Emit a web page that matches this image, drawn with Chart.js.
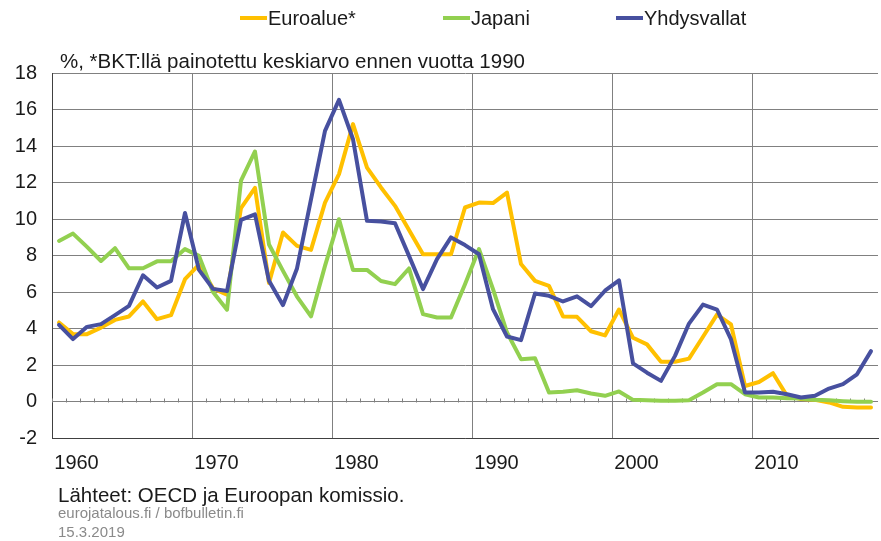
<!DOCTYPE html>
<html>
<head>
<meta charset="utf-8">
<script src="https://cdn.jsdelivr.net/npm/chart.js@4.4.1/dist/chart.umd.min.js"></script>
<style>
	body { margin: 0; background: #fff; font-family: "Liberation Sans", Arial, sans-serif; }
	#wrap { position: relative; width: 881px; height: 541px; overflow: hidden; }
	#chart { position: absolute; left: 0; top: 0; }
	.txt { position: absolute; white-space: nowrap; color: #1a1a1a; }
	.leg-line { position: absolute; height: 4px; width: 27px; }
	.small { font-size: 15px; line-height: 18px; color: #8a8a8a; }
</style>
</head>
<body>
<div id="wrap">
	<canvas id="chart" width="881" height="541"></canvas>
	<div id="legend"></div>
	<div class="txt" style="left:60px; top:49px; font-size:20.5px; line-height:24px;">%, *BKT:llä painotettu keskiarvo ennen vuotta 1990</div>
	<div class="txt" style="left:58px; top:483px; font-size:20.5px; line-height:24px;">Lähteet: OECD ja Euroopan komissio.</div>
	<div class="txt small" style="left:58px; top:504px;">eurojatalous.fi / bofbulletin.fi</div>
	<div class="txt small" style="left:58px; top:523px;">15.3.2019</div>
</div>
<script>
// vuodet (kategoriat)
var years = [
	1959, 1960, 1961, 1962, 1963, 1964, 1965, 1966, 1967, 1968,
	1969, 1970, 1971, 1972, 1973, 1974, 1975, 1976, 1977, 1978,
	1979, 1980, 1981, 1982, 1983, 1984, 1985, 1986, 1987, 1988,
	1989, 1990, 1991, 1992, 1993, 1994, 1995, 1996, 1997, 1998,
	1999, 2000, 2001, 2002, 2003, 2004, 2005, 2006, 2007, 2008,
	2009, 2010, 2011, 2012, 2013, 2014, 2015, 2016, 2017
];
// Euroalue*
var euroalue = [
	4.33, 3.69, 3.69, 4.05, 4.47, 4.66, 5.48, 4.51, 4.73, 6.7,
	7.5, 6.2, 5.85, 10.6, 11.7, 6.5, 9.26, 8.53, 8.31, 10.9,
	12.46, 15.2, 12.82, 11.73, 10.72, 9.4, 8.07, 8.07, 8.07, 10.63,
	10.9, 10.87, 11.45, 7.53, 6.61, 6.34, 4.66, 4.64, 3.85, 3.62,
	5.04, 3.49, 3.13, 2.18, 2.18, 2.35, 3.55, 4.76, 4.22, 0.85,
	1.07, 1.55, 0.31, 0.13, 0.09, -0.05, -0.29, -0.33, -0.33
];
// Japani
var japani = [
	8.8, 9.2, 8.47, 7.7, 8.4, 7.3, 7.3, 7.68, 7.68, 8.35,
	7.98, 6.0, 5.03, 12.1, 13.7, 8.6, 7.16, 5.75, 4.66, 7.43,
	9.99, 7.21, 7.21, 6.6, 6.43, 7.29, 4.79, 4.6, 4.6, 6.43,
	8.35, 6.16, 3.78, 2.32, 2.37, 0.49, 0.53, 0.62, 0.44, 0.31,
	0.55, 0.09, 0.07, 0.04, 0.04, 0.07, 0.49, 0.95, 0.95, 0.4,
	0.22, 0.22, 0.18, 0.16, 0.09, 0.07, 0.02, -0.02, -0.02
];
// Yhdysvallat
var yhdysvallat = [
	4.2, 3.42, 4.09, 4.24, 4.73, 5.24, 6.92, 6.25, 6.61, 10.33,
	7.21, 6.17, 6.05, 9.95, 10.25, 6.61, 5.28, 7.29, 11.07, 14.83,
	16.53, 14.37, 9.9, 9.86, 9.77, 7.98, 6.16, 7.8, 8.99, 8.57,
	8.07, 5.06, 3.56, 3.36, 5.92, 5.79, 5.48, 5.76, 5.22, 6.07,
	6.64, 2.09, 1.58, 1.13, 2.5, 4.27, 5.31, 5.04, 3.4, 0.49,
	0.49, 0.53, 0.4, 0.22, 0.31, 0.71, 0.95, 1.49, 2.76
];
var xTickYears = [1960, 1970, 1980, 1990, 2000, 2010];
var xGridYears = [1968.5, 1978.5, 1988.5, 1998.5, 2008.5];
var yTicks = [-2, 0, 2, 4, 6, 8, 10, 12, 14, 16, 18];

var seriesNames = ["Euroalue*", "Japani", "Yhdysvallat"];
var seriesColors = ["#FFC000", "#92D050", "#47509F"];
var seriesData = [euroalue, japani, yhdysvallat];
var legendX = [240, 443, 616];

var toPoints = function( values ){
	return years.map(function( yr, i ){ return { x: yr, y: values[i] }; });
};

// selite (HTML)
var legend = document.getElementById("legend");
seriesNames.forEach(function( name, i ){
	var line = document.createElement("div");
	line.className = "leg-line";
	line.style.left = legendX[i] + "px";
	line.style.top = "16px";
	line.style.background = seriesColors[i];
	legend.appendChild(line);
	var t = document.createElement("div");
	t.className = "txt";
	t.style.left = (legendX[i] + 28) + "px";
	t.style.top = "6px";
	t.style.fontSize = "20px";
	t.style.lineHeight = "24px";
	t.textContent = name;
	legend.appendChild(t);
});

// pienet jakoviivat nollatasolla
var zeroTicks = {
	id: "zeroTicks",
	beforeDatasetsDraw: function( chart ){
		var ctx = chart.ctx, x = chart.scales.x, y = chart.scales.y;
		var y0 = Math.round(y.getPixelForValue(0)) + 0.5;
		ctx.save();
		ctx.strokeStyle = "#808080";
		ctx.lineWidth = 1;
		ctx.beginPath();
		years.forEach(function( yr ){
			var px = Math.round(x.getPixelForValue(yr - 0.5)) + 0.5;
			ctx.moveTo(px, y0);
			ctx.lineTo(px, y0 - 4);
		});
		ctx.stroke();
		ctx.restore();
	}
};

var datasets = seriesNames.map(function( name, i ){
	return {
		label: name,
		data: toPoints(seriesData[i]),
		borderColor: seriesColors[i],
		backgroundColor: seriesColors[i],
		borderWidth: 4,
		pointRadius: 0,
		tension: 0,
		borderJoinStyle: "round",
		borderCapStyle: "round",
		order: seriesNames.length - i
	};
});

new Chart(document.getElementById("chart"), {
	type: "line",
	data: { datasets: datasets },
	plugins: [zeroTicks],
	options: {
		responsive: false,
		animation: false,
		devicePixelRatio: 1,
		layout: { padding: { left: 0, top: 73, right: 3, bottom: 0 } },
		plugins: {
			legend: { display: false },
			tooltip: { enabled: false }
		},
		scales: {
			x: {
				type: "linear",
				position: "bottom",
				min: 1958.5,
				max: 2017.5,
				afterBuildTicks: function( s ){
					s.ticks = xTickYears.map(function( v ){ return { value: v }; });
				},
				afterFit: function( s ){ s.height = 103; },
				grid: { display: false, drawTicks: false },
				border: { display: true, color: "#404040", width: 1 },
				ticks: {
					autoSkip: false,
					maxRotation: 0,
					padding: 13,
					labelOffset: 3.5,
					color: "#1a1a1a",
					font: { family: "'Liberation Sans', Arial", size: 20 },
					callback: function( v ){ return String(v); }
				}
			},
			xg: {
				type: "linear",
				position: "bottom",
				min: 1958.5,
				max: 2017.5,
				afterBuildTicks: function( s ){
					s.ticks = xGridYears.map(function( v ){ return { value: v }; });
				},
				afterFit: function( s ){ s.height = 0; },
				grid: { color: "#808080", lineWidth: 1, drawTicks: false },
				border: { display: false },
				ticks: { display: false }
			},
			y: {
				min: -2,
				max: 18,
				afterBuildTicks: function( s ){
					s.ticks = yTicks.map(function( v ){ return { value: v }; });
				},
				afterFit: function( s ){ s.width = 52; },
				grid: { color: "#808080", lineWidth: 1, drawTicks: false },
				border: { display: true, color: "#404040", width: 1 },
				ticks: {
					padding: 15,
					color: "#1a1a1a",
					font: { family: "'Liberation Sans', Arial", size: 20 }
				}
			}
		}
	}
});
</script>
</body>
</html>
